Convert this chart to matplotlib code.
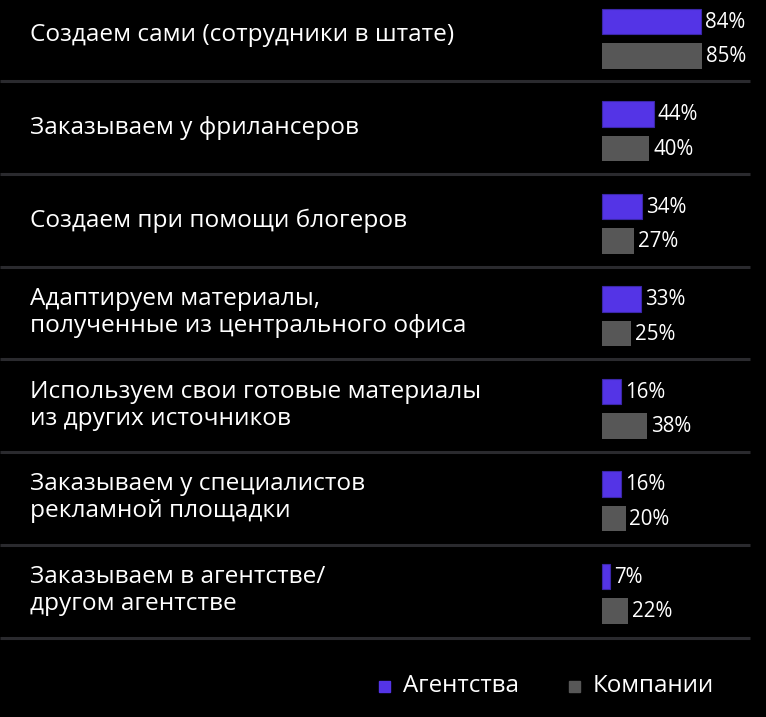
import matplotlib
matplotlib.use("Agg")
import matplotlib.pyplot as plt
import matplotlib.transforms as mtransforms
import numpy as np

categories = [
    "Создаем сами (сотрудники в штате)",
    "Заказываем у фрилансеров",
    "Создаем при помощи блогеров",
    "Адаптируем материалы,\nполученные из центрального офиса",
    "Используем свои готовые материалы\nиз других источников",
    "Заказываем у специалистов\nрекламной площадки",
    "Заказываем в агентстве/\nдругом агентстве",
]
agencies = [84, 44, 34, 33, 16, 16, 7]
companies = [85, 40, 27, 25, 38, 20, 22]
series_names = ["Агентства", "Компании"]

PURPLE = "#5434E6"
GRAY = "#575757"
BG = "#000000"
LINE = "#2a2a2e"
FONT = ["Open Sans", "DejaVu Sans"]

W, H = 766, 717
fig = plt.figure(figsize=(W / 100, H / 100), dpi=100, facecolor=BG)
ax = fig.add_axes([0, 0, 1, 1])
ax.set_facecolor(BG)

px_per_pct = 1.175
x0 = 602
ax.set_xlim(-x0 / px_per_pct, (W - x0) / px_per_pct)
row_px = 92.5
top_center = 38.6
ax.set_ylim(6 + (H - (top_center + 6 * row_px)) / row_px, -top_center / row_px)
ax.axis("off")

y = np.arange(len(categories))
off = 0.1867
bh = 0.277
ax.barh(y - off, agencies, height=bh, color=PURPLE, edgecolor="#3b27a8", linewidth=0.8)
ax.barh(y + off, companies, height=bh, color=GRAY, edgecolor=GRAY, linewidth=0.0)

for yi, v in zip(y - off, agencies):
    ax.annotate(f"{v}%", (v, yi), xytext=(4, -1), textcoords="offset pixels",
                ha="left", va="center", color="white", fontsize=14.8, family=FONT)
for yi, v in zip(y + off, companies):
    ax.annotate(f"{v}%", (v, yi), xytext=(4, -1), textcoords="offset pixels",
                ha="left", va="center", color="white", fontsize=14.8, family=FONT)

trans = mtransforms.blended_transform_factory(fig.transFigure, ax.transData)
for yi, lab in zip(y, categories):
    ax.text(30 / W, yi - 0.035, lab, transform=trans, ha="left", va="center",
            color="white", fontsize=17.6, family=FONT, linespacing=1.17)

for k in range(len(categories)):
    yl = k + 0.456 + 0.004 * k
    ax.plot([0, 750 / W], [yl, yl], transform=trans,
            color=LINE, linewidth=2.2, solid_capstyle="butt")

# legend
leg_y = 1 - 686 / H
fig.patches.append(plt.Rectangle((379 / W, 1 - 692 / H), 11 / W, 11 / H,
                                 transform=fig.transFigure, color=PURPLE))
fig.text(403 / W, leg_y, series_names[0], ha="left", va="center",
         color="white", fontsize=17.4, family=FONT)
fig.patches.append(plt.Rectangle((569 / W, 1 - 692 / H), 11 / W, 11 / H,
                                 transform=fig.transFigure, color=GRAY))
fig.text(593 / W, leg_y, series_names[1], ha="left", va="center",
         color="white", fontsize=17.4, family=FONT)

fig.savefig("out.png", dpi=100, facecolor=BG)
